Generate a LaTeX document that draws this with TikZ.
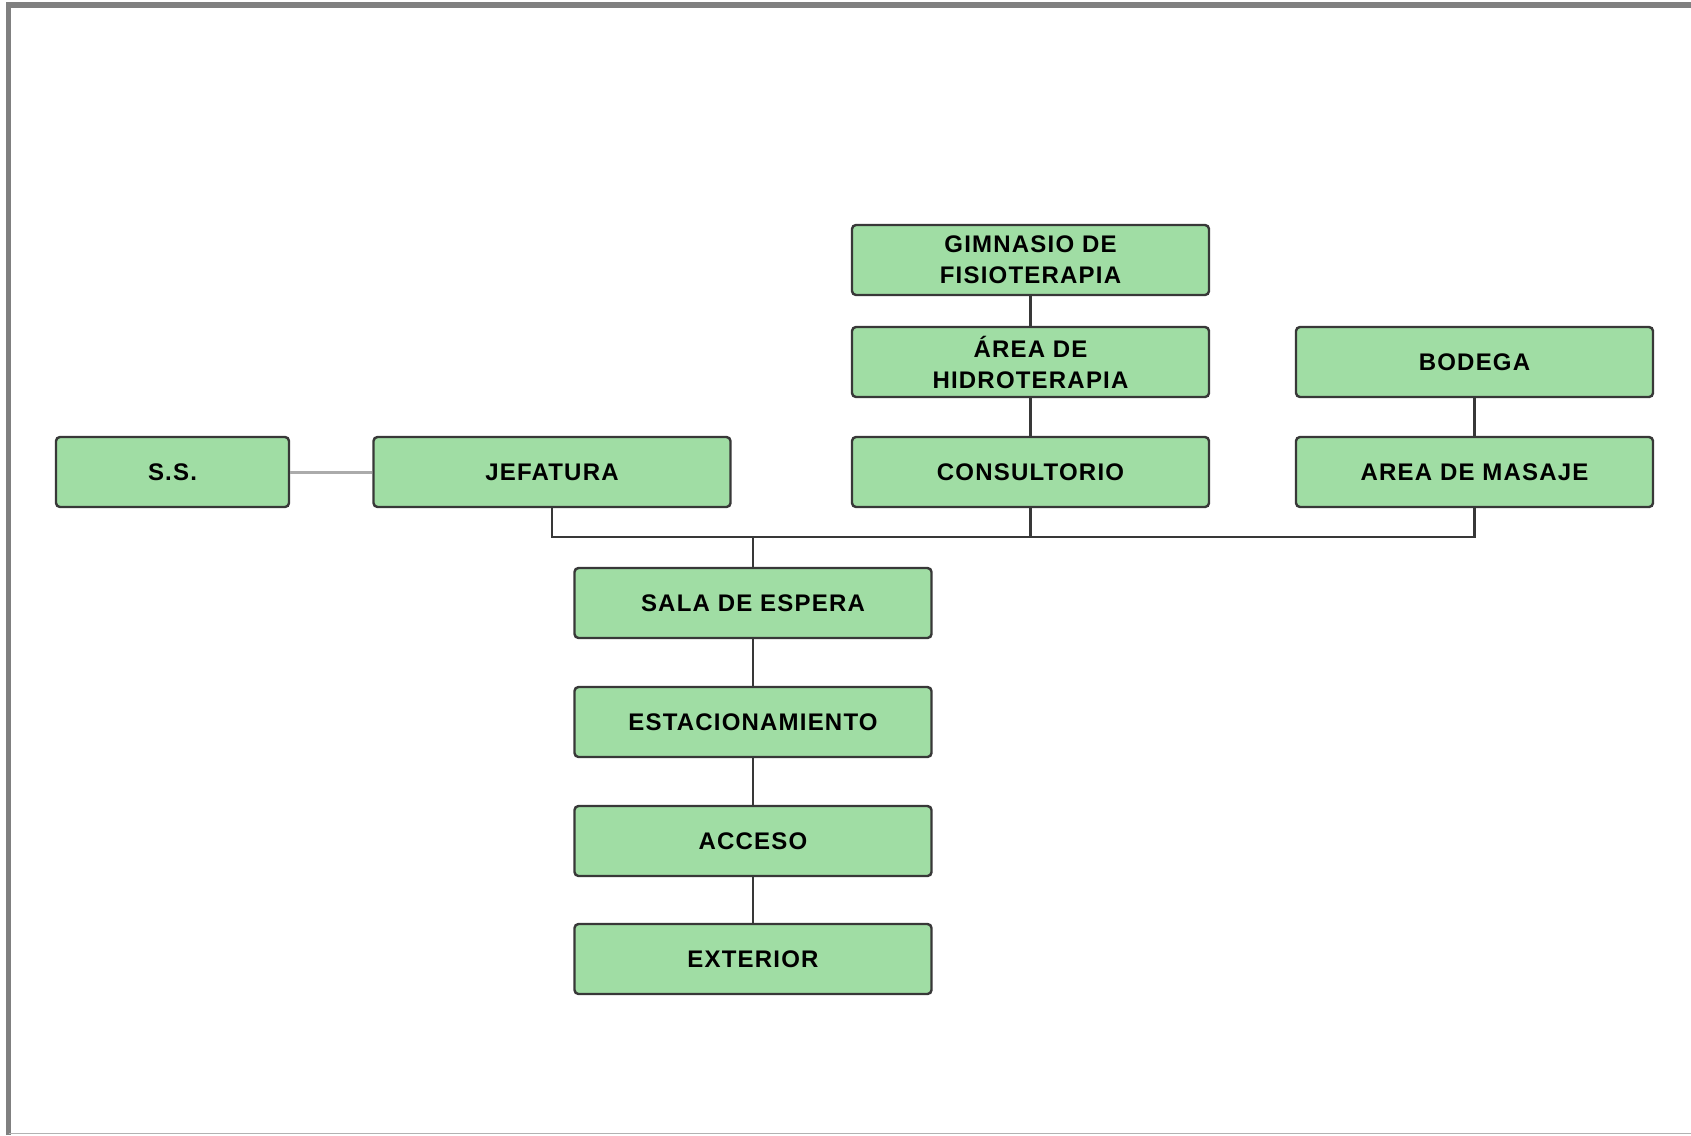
\documentclass[tikz,border=0pt]{standalone}
\usepackage{fontspec}
\setmainfont{Liberation Sans}
\newfontfamily\roomfont{Liberation Sans}[LetterSpace=5]
\usepackage{xcolor}
\usetikzlibrary{positioning}
\definecolor{roomgreen}{HTML}{A0DDA4}
\definecolor{edgegray}{HTML}{383838}
\tikzset{
  room/.style={rectangle, rounded corners=4pt, draw=edgegray, line width=2.4pt,
    fill=roomgreen, align=center, minimum width=357pt, minimum height=70pt,
    font=\roomfont\fontsize{24}{31}\selectfont\bfseries, inner sep=2pt},
  smallroom/.style={room, minimum width=233pt},
  link/.style={draw=edgegray, line width=2.4pt},
  softlink/.style={draw=black!33, line width=3pt},
}
\begin{document}
\begin{tikzpicture}[x=1pt,y=-1pt]
  \useasboundingbox (0,0) rectangle (1691,1135);
  \fill[white] (0,0) rectangle (1691,1135);
  % frame
  \draw[line width=5.5pt, draw=black!50] (8.5,1135) -- (8.5,4.75) -- (1691,4.75);
  \draw[line width=1.5pt, draw=black!30] (8.5,1133.5) -- (1691,1133.5);
  % rooms
  \node[smallroom] (ss) at (172.5,472) {S.S.};
  \node[room] (jef) at (552,472) {JEFATURA};
  \node[room] (cons) at (1030.5,472) {CONSULTORIO};
  \node[room] (hidro) at (1030.5,362) {ÁREA DE\\HIDROTERAPIA};
  \node[room] (gim) at (1030.5,260) {GIMNASIO DE\\FISIOTERAPIA};
  \node[room] (bod) at (1474.5,362) {BODEGA};
  \node[room] (mas) at (1474.5,472) {AREA DE MASAJE};
  \node[room] (sala) at (753,603) {SALA DE ESPERA};
  \node[room] (est) at (753,722) {ESTACIONAMIENTO};
  \node[room] (acc) at (753,841) {ACCESO};
  \node[room] (ext) at (753,959) {EXTERIOR};
  % connectors
  \coordinate (bus) at (753,537);
  \draw[softlink] (ss) -- (jef);
  \draw[link] (jef.south) |- (bus) -| (mas.south);
  \draw[link] (cons.south) -- (cons.south |- bus);
  \draw[link] (bus) -- (sala.north);
  \draw[link] (gim) -- (hidro);
  \draw[link] (hidro) -- (cons);
  \draw[link] (bod) -- (mas);
  \foreach \a/\b in {sala/est, est/acc, acc/ext}
    \draw[link] (\a) -- (\b);
\end{tikzpicture}
\end{document}
